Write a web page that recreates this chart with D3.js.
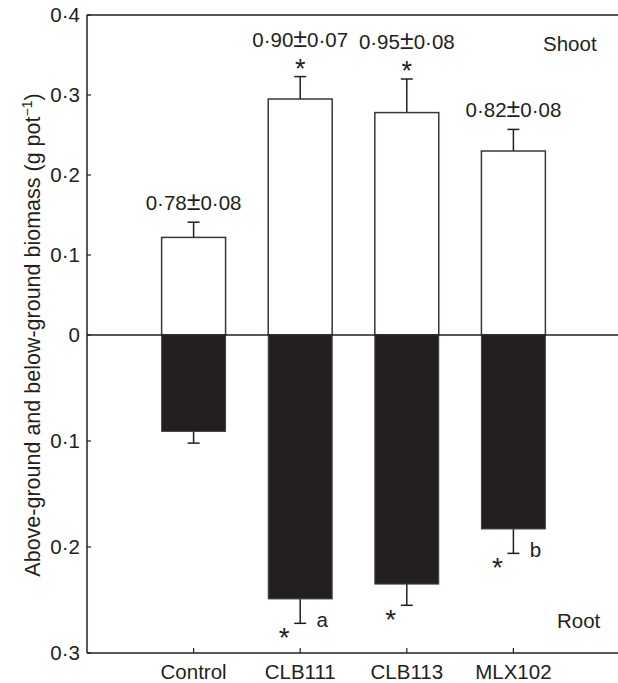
<!DOCTYPE html>
<html>
<head>
<meta charset="utf-8">
<script src="https://cdn.jsdelivr.net/npm/d3@7"></script>
<style>
  body { margin: 0; background: #fff; }
  text { font-family: "Liberation Sans", Arial, sans-serif; fill: #231f20; }
</style>
</head>
<body>
<script>
// values
const categories = ["Control", "CLB111", "CLB113", "MLX102"];
const shoot = [0.122, 0.295, 0.278, 0.230];
const shootErr = [0.019, 0.028, 0.042, 0.027];
const root = [0.091, 0.249, 0.235, 0.183];
const rootErr = [0.011, 0.023, 0.020, 0.023];
const shootLabels = ["0·78±0·08", "0·90±0·07", "0·95±0·08", "0·82±0·08"];
const shootStar = [false, true, true, false];
const rootStar = [false, true, true, true];
const rootLetter = ["", "a", "", "b"];
const shootTicks = [0.4, 0.3, 0.2, 0.1, 0];
const rootTicks = [0.1, 0.2, 0.3];

const W = 618, H = 683;
const m = { left: 87, right: 620, top: 15, zero: 335, bottom: 653 };
const ink = "#231f20";
const fs = 20.5;

const svg = d3.select("body").append("svg")
    .attr("width", W).attr("height", H);

let x = d3.scalePoint().domain(categories).range([m.left, m.right]).padding(1);
let yUp = d3.scaleLinear().domain([0, 0.4]).range([m.zero, m.top]);
let yDown = d3.scaleLinear().domain([0, 0.3]).range([m.zero, m.bottom]);
const bw = x.step() * 0.6;
const fmt = d => d === 0 ? "0" : d3.format(".1f")(d).replace(".", "·");

// frame
svg.append("line").attr("x1", m.left).attr("x2", m.right).attr("y1", m.top).attr("y2", m.top)
   .attr("stroke", ink).attr("stroke-width", 1.5);
svg.append("line").attr("x1", m.left).attr("x2", m.right).attr("y1", m.bottom).attr("y2", m.bottom)
   .attr("stroke", ink).attr("stroke-width", 1.5);
svg.append("line").attr("x1", m.left).attr("x2", m.left).attr("y1", m.top).attr("y2", m.bottom)
   .attr("stroke", ink).attr("stroke-width", 1.5);

// y ticks (two half-axes with their own scales)
const ticks = shootTicks.map(v => ({ v, y: yUp(v) }))
    .concat(rootTicks.map(v => ({ v, y: yDown(v) })));
svg.selectAll(".ytick").data(ticks).enter().append("line")
   .attr("x1", m.left).attr("x2", m.left + 4)
   .attr("y1", d => d.y).attr("y2", d => d.y)
   .attr("stroke", ink).attr("stroke-width", 1.2);
svg.selectAll(".ylab").data(ticks).enter().append("text")
   .attr("x", m.left - 7).attr("y", d => d.y + 7)
   .attr("text-anchor", "end").attr("font-size", fs)
   .text(d => fmt(d.v));

// x ticks and labels
svg.selectAll(".xtick").data(categories).enter().append("line")
   .attr("x1", d => x(d)).attr("x2", d => x(d))
   .attr("y1", m.bottom).attr("y2", m.bottom - 5)
   .attr("stroke", ink).attr("stroke-width", 1.2);
svg.selectAll(".xlab").data(categories).enter().append("text")
   .attr("x", d => x(d)).attr("y", m.bottom + 26)
   .attr("text-anchor", "middle").attr("font-size", fs)
   .text(d => d);

// axis title
const title = svg.append("text")
   .attr("transform", `translate(40,${m.zero}) rotate(-90)`)
   .attr("text-anchor", "middle").attr("font-size", 21.5);
title.append("tspan").text("Above-ground and below-ground biomass (g pot");
title.append("tspan").attr("font-size", 14).attr("dy", -8).text("−1");
title.append("tspan").attr("dy", 8).text(")");

const rows = categories.map((c, i) => ({
    c, s: shoot[i], se: shootErr[i], r: root[i], re: rootErr[i],
    lab: shootLabels[i], sStar: shootStar[i], rStar: rootStar[i], letter: rootLetter[i]
}));

// error bars
rows.forEach(d => {
    const cx = x(d.c);
    const yt = yUp(d.s + d.se);
    svg.append("line").attr("x1", cx).attr("x2", cx).attr("y1", yUp(d.s)).attr("y2", yt)
       .attr("stroke", ink).attr("stroke-width", 1.5);
    svg.append("line").attr("x1", cx - 6).attr("x2", cx + 6).attr("y1", yt).attr("y2", yt)
       .attr("stroke", ink).attr("stroke-width", 1.5);
    const yb = yDown(d.r + d.re);
    svg.append("line").attr("x1", cx).attr("x2", cx).attr("y1", yDown(d.r)).attr("y2", yb)
       .attr("stroke", ink).attr("stroke-width", 1.5);
    svg.append("line").attr("x1", cx - 6).attr("x2", cx + 6).attr("y1", yb).attr("y2", yb)
       .attr("stroke", ink).attr("stroke-width", 1.5);
});

// shoot bars
svg.selectAll(".shoot").data(rows).enter().append("rect")
   .attr("x", d => x(d.c) - bw / 2).attr("width", bw)
   .attr("y", d => yUp(d.s)).attr("height", d => m.zero - yUp(d.s))
   .attr("fill", "#fff").attr("stroke", "#3a3637").attr("stroke-width", 1.5);

// root bars
svg.selectAll(".root").data(rows).enter().append("rect")
   .attr("x", d => x(d.c) - bw / 2).attr("width", bw)
   .attr("y", m.zero).attr("height", d => yDown(d.r) - m.zero)
   .attr("fill", ink).attr("stroke", "#444").attr("stroke-width", 1);

// zero line
svg.append("line").attr("x1", m.left).attr("x2", m.right).attr("y1", m.zero).attr("y2", m.zero)
   .attr("stroke", ink).attr("stroke-width", 1.5);

// annotations
rows.forEach(d => {
    const cx = x(d.c);
    const yt = yUp(d.s + d.se);
    if (d.sStar) {
        svg.append("text").attr("x", cx).attr("y", yt + 1)
           .attr("text-anchor", "middle").attr("font-size", 27).text("*");
    }
    // mean ± sd label, the ± drawn a bit bigger like the original
    const parts = d.lab.split("±");
    const lab = svg.append("text").attr("x", cx).attr("y", yt - (d.sStar ? 30 : 12))
       .attr("text-anchor", "middle").attr("font-size", fs);
    lab.append("tspan").text(parts[0]);
    lab.append("tspan").attr("font-size", 25).text("±");
    lab.append("tspan").text(parts[1]);

    const yb = yDown(d.r + d.re);
    if (d.rStar) {
        svg.append("text").attr("x", cx - 16).attr("y", yb + 24)
           .attr("text-anchor", "middle").attr("font-size", 28).text("*");
    }
    if (d.letter) {
        svg.append("text").attr("x", cx + 22).attr("y", yb + 4)
           .attr("text-anchor", "middle").attr("font-size", fs).text(d.letter);
    }
});

svg.append("text").attr("x", 543).attr("y", 51).attr("font-size", fs).text("Shoot");
svg.append("text").attr("x", 557).attr("y", 628).attr("font-size", fs).text("Root");
</script>
</body>
</html>
